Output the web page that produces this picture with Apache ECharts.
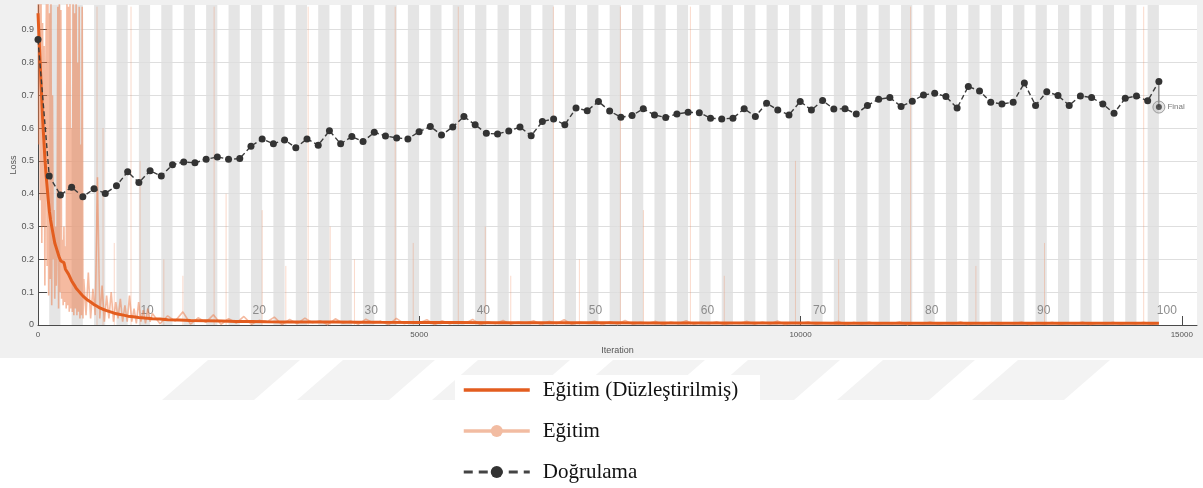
<!DOCTYPE html>
<html>
<head>
<meta charset="utf-8">
<script src="https://cdn.jsdelivr.net/npm/echarts@6/dist/echarts.min.js"></script>
<style>
  html, body { margin: 0; padding: 0; background: #fff; }
  #chart { width: 1203px; height: 488px; }
</style>
</head>
<body>
<div id="chart"></div>
<script>
// ---- training run data ----
const itersPerEpoch = 147;
const epochCount = 100;

const xTicks = [0, 5000, 10000, 15000];
const yTicks = [0, 0.1, 0.2, 0.3, 0.4, 0.5, 0.6, 0.7, 0.8, 0.9];
const epochLabels = [10, 20, 30, 40, 50, 60, 70, 80, 90, 100];

// validation loss, one value per epoch end (epoch 0 .. 100)
const valLoss = [
  0.870, 0.454, 0.396, 0.420, 0.391, 0.415, 0.401, 0.424, 0.467, 0.434,
  0.470, 0.454, 0.488, 0.497, 0.494, 0.505, 0.512, 0.505, 0.507, 0.545,
  0.567, 0.552, 0.564, 0.540, 0.567, 0.548, 0.592, 0.552, 0.574, 0.559,
  0.587, 0.576, 0.570, 0.567, 0.589, 0.605, 0.579, 0.603, 0.635, 0.610,
  0.584, 0.582, 0.591, 0.603, 0.577, 0.620, 0.628, 0.610, 0.661, 0.653,
  0.681, 0.652, 0.633, 0.638, 0.659, 0.640, 0.632, 0.643, 0.648, 0.647,
  0.630, 0.628, 0.630, 0.659, 0.635, 0.676, 0.655, 0.640, 0.681, 0.655,
  0.684, 0.658, 0.659, 0.643, 0.669, 0.688, 0.693, 0.666, 0.682, 0.701,
  0.706, 0.696, 0.661, 0.727, 0.713, 0.679, 0.673, 0.679, 0.737, 0.669,
  0.711, 0.699, 0.669, 0.698, 0.693, 0.673, 0.645, 0.691, 0.698, 0.683,
  0.742
];
const finalLoss = 0.664;

// smoothed training loss
const smoothIter = [0, 15, 30, 45, 60, 75, 90, 105, 120, 135, 150, 165, 180, 200, 220, 240, 260, 280, 300, 320,
  340, 360, 380, 400, 420, 440, 460, 480, 500, 530, 560, 590, 620, 650, 690, 730, 770, 810, 850, 900,
  950, 1000, 1060, 1120, 1180, 1250, 1320, 1400, 1500, 1600, 1700, 1850, 2000, 2200, 2400, 2600, 2800, 3000, 3300, 3600,
  3900, 4200, 4500, 5000, 5500, 6000, 6500, 7000, 7500, 8000, 8500, 9000, 9500, 10000, 10500, 11000, 11500, 12000, 12500, 13000,
  13500, 14000, 14700];
const smoothLoss = [0.95, 0.87, 0.79, 0.71, 0.63, 0.57, 0.51, 0.46, 0.42, 0.38, 0.345, 0.32, 0.30, 0.275, 0.25, 0.235, 0.22, 0.205, 0.195, 0.20,
  0.19, 0.17, 0.165, 0.155, 0.145, 0.135, 0.13, 0.12, 0.112, 0.104, 0.096, 0.088, 0.082, 0.076, 0.07, 0.063, 0.058, 0.052, 0.048, 0.044,
  0.04, 0.036, 0.033, 0.03, 0.027, 0.025, 0.023, 0.021, 0.019, 0.018, 0.016, 0.015, 0.014, 0.013, 0.012, 0.011, 0.0105, 0.010, 0.0095, 0.009,
  0.0088, 0.0085, 0.008, 0.0078, 0.0075, 0.0072, 0.007, 0.0068, 0.0066, 0.0064, 0.0062, 0.006, 0.0059, 0.0058, 0.0057, 0.0056, 0.0055, 0.0054, 0.0053, 0.0052,
  0.0051, 0.005, 0.005];

// raw training loss: iterations 0-590 every 10
const rawA = [1.05, 0.55, 1.02, 0.38, 0.98, 0.25, 0.92, 0.30, 0.85, 0.12,
  0.70, 0.98, 0.18, 1.00, 0.09, 0.95, 0.14, 0.99, 0.06, 0.70,
  0.20, 0.35, 0.08, 0.30, 0.12, 0.28, 0.97, 0.05, 1.00, 0.10,
  0.96, 0.08, 0.26, 0.06, 0.30, 0.07, 0.24, 0.05, 0.99, 0.06,
  0.97, 0.04, 1.00, 0.05, 0.60, 0.04, 0.98, 0.03, 0.95, 0.05,
  0.99, 0.03, 0.80, 0.04, 0.97, 0.02, 0.55, 0.03, 0.97, 0.02];
// iterations 600-1470 every 30
const rawB = [0.14, 0.03, 0.16, 0.02, 0.11, 0.03, 0.45, 0.02, 0.12, 0.01,
  0.09, 0.02, 0.10, 0.01, 0.07, 0.02, 0.08, 0.01, 0.06, 0.01,
  0.09, 0.01, 0.05, 0.005, 0.07, 0.01, 0.045, 0.005, 0.05, 0.01];
// iterations 1500-14700 every 100
const rawC = [0.035, 0.004, 0.028, 0.012, 0.040, 0.003, 0.022, 0.008, 0.031, 0.002,
  0.019, 0.006, 0.026, 0.002, 0.014, 0.009, 0.024, 0.001, 0.017, 0.004,
  0.021, 0.007, 0.013, 0.001, 0.019, 0.005, 0.012, 0.002, 0.018, 0.006,
  0.011, 0.001, 0.020, 0.004, 0.010, 0.006, 0.016, 0.001, 0.013, 0.003,
  0.009, 0.005, 0.017, 0.001, 0.010, 0.004, 0.014, 0.002, 0.009, 0.006,
  0.013, 0.001, 0.011, 0.004, 0.016, 0.002, 0.008, 0.005, 0.012, 0.001,
  0.010, 0.003, 0.014, 0.002, 0.008, 0.005, 0.011, 0.001, 0.009, 0.004,
  0.013, 0.002, 0.008, 0.004, 0.010, 0.001, 0.007, 0.005, 0.011, 0.002,
  0.009, 0.003, 0.012, 0.001, 0.007, 0.004, 0.010, 0.002, 0.007, 0.005,
  0.011, 0.001, 0.008, 0.003, 0.009, 0.002, 0.006, 0.004, 0.010, 0.001,
  0.007, 0.003, 0.009, 0.002, 0.006, 0.004, 0.010, 0.001, 0.007, 0.003,
  0.008, 0.002, 0.006, 0.004, 0.009, 0.001, 0.007, 0.003, 0.008, 0.002,
  0.006, 0.004, 0.009, 0.001, 0.006, 0.003, 0.008, 0.002, 0.007, 0.004,
  0.008, 0.002, 0.006];

// isolated raw-loss spikes
const spikeIter = [774, 853, 1000, 1220, 1339, 1650, 1900, 2310, 2467, 2940, 3250, 3543, 3832, 4150, 4685, 4921,
  5512, 5866, 6200, 6759, 7100, 7638, 7940, 8556, 9000, 9934, 10500, 11444, 12300, 13200, 14501];
const spikePeak = [0.97, 0.60, 0.25, 0.97, 0.50, 0.20, 0.15, 0.97, 0.40, 0.35, 0.18, 0.97, 0.30, 0.20, 0.97, 0.25,
  0.97, 0.30, 0.15, 0.97, 0.20, 0.97, 0.35, 0.97, 0.15, 0.50, 0.20, 0.97, 0.18, 0.25, 0.97];

// ---- assemble series data ----
const X_MAX = 15200, Y_MAX = 0.975;
const rawPts = []
  .concat(rawA.map((v, i) => [i * 10, v]))
  .concat(rawB.map((v, i) => [600 + i * 30, v]))
  .concat(rawC.map((v, i) => [1500 + i * 100, v]));
const smoothPts = smoothIter.map((it, i) => [it, smoothLoss[i]]);
const valPts = valLoss.map((v, k) => [k * itersPerEpoch, v]);
const lastIter = epochCount * itersPerEpoch;
const spikePts = spikeIter.map((it, i) => [it, spikePeak[i]]);
const shadedEpochs = [];
for (let k = 2; k <= epochCount; k += 2) shadedEpochs.push([k]);

const ORANGE = '#e35d1f';
const RAW = 'rgba(236,118,66,0.5)';
const SANS = 'Liberation Sans, Arial, sans-serif';
const fmt = v => String(v);

// decorative slanted stripes under the plot panel
const stripes = [];
for (let i = 0; i < 7; i++) {
  const x0 = 162 + i * 135;
  stripes.push({
    type: 'polygon', z: -20, silent: true,
    shape: { points: [[x0 + 46, 360], [x0 + 138, 360], [x0 + 92, 400], [x0, 400]] },
    style: { fill: '#f3f3f3' }
  });
}

const chart = echarts.init(document.getElementById('chart'), null, { renderer: 'canvas' });
chart.setOption({
  animation: false,
  textStyle: { fontFamily: SANS },
  graphic: [
    { type: 'rect', z: -30, silent: true, shape: { x: 0, y: 0, width: 1203, height: 358 }, style: { fill: '#f0f0f0' } },
    { type: 'rect', z: -25, silent: true, shape: { x: 38, y: 5, width: 1159, height: 320 }, style: { fill: '#ffffff' } }
  ].concat(stripes).concat([
    { type: 'rect', z: -10, silent: true, shape: { x: 455, y: 375, width: 305, height: 113 }, style: { fill: '#ffffff' } }
  ]),
  grid: { left: 38, top: 5, right: 6, bottom: 163, show: false, outerBoundsMode: 'none', containLabel: false },
  xAxis: {
    type: 'value', min: 0, max: X_MAX, interval: 5000,
    name: 'Iteration', nameLocation: 'middle', nameGap: 21, nameMoveOverlap: false,
    nameTextStyle: { fontSize: 9, color: '#555' },
    axisLine: { show: true, lineStyle: { color: '#4a4a4a', width: 1 } },
    axisTick: { show: true, inside: true, length: 9, customValues: xTicks, lineStyle: { color: '#4a4a4a' } },
    axisLabel: { fontSize: 8, color: '#555', margin: 6, customValues: xTicks, formatter: fmt },
    splitLine: { show: false }
  },
  yAxis: {
    type: 'value', min: 0, max: Y_MAX, interval: 0.1,
    name: 'Loss', nameLocation: 'middle', nameGap: 20, nameRotate: 90, nameMoveOverlap: false,
    nameTextStyle: { fontSize: 9, color: '#555' },
    axisLine: { show: true, lineStyle: { color: '#4a4a4a', width: 1 } },
    axisTick: { show: true, inside: true, length: 9, customValues: yTicks, lineStyle: { color: '#4a4a4a' } },
    axisLabel: { fontSize: 9, color: '#555', margin: 4, customValues: yTicks, formatter: fmt },
    splitLine: { show: true, lineStyle: { color: '#dedede', width: 1 } }
  },
  legend: {
    orient: 'vertical', left: 462, top: 378, padding: 0,
    itemWidth: 66, itemHeight: 15, itemGap: 17,
    textStyle: { fontFamily: 'Liberation Serif, Times New Roman, serif', fontSize: 21, color: '#111', lineHeight: 24, padding: [0, 0, 0, 8] },
    data: [
      { name: 'Eğitim (Düzleştirilmiş)', itemStyle: { color: 'rgba(0,0,0,0)', borderWidth: 0 }, lineStyle: { color: ORANGE, width: 3.5 } },
      { name: 'Eğitim', itemStyle: { color: '#f2bca2' }, lineStyle: { color: '#f2bca2', width: 3.5 } },
      { name: 'Doğrulama', itemStyle: { color: '#333' }, lineStyle: { color: '#444', width: 3, type: [9, 6] } }
    ],
    selectedMode: false
  },
  series: [
    {
      // alternating epoch shading
      type: 'custom', name: 'epochs', z: -5, silent: true,
      data: shadedEpochs,
      renderItem: (params, api) => {
        const k = api.value(0);
        const a = api.coord([(k - 1) * itersPerEpoch, Y_MAX]);
        const b = api.coord([k * itersPerEpoch, 0]);
        return { type: 'rect', shape: { x: a[0], y: a[1], width: b[0] - a[0], height: b[1] - a[1] }, style: { fill: '#e5e5e5' } };
      }
    },
    {
      // epoch numbers along the bottom
      type: 'custom', name: 'epochNumbers', z: 1, silent: true,
      data: epochLabels.map(e => [e]),
      renderItem: (params, api) => {
        const e = api.value(0);
        const p = api.coord([e * itersPerEpoch, 0.045]);
        return {
          type: 'text', x: p[0] + (e === epochCount ? 8 : -3), y: p[1],
          style: { text: String(e), fill: '#8c8c8c', font: '12px ' + SANS, align: 'center', verticalAlign: 'middle' }
        };
      }
    },
    {
      type: 'custom', name: 'spikes', z: 2, silent: true,
      data: spikePts,
      renderItem: (params, api) => {
        const p0 = api.coord([api.value(0), 0]);
        const p1 = api.coord([api.value(0), Math.min(api.value(1), Y_MAX)]);
        return { type: 'line', shape: { x1: p0[0], y1: p0[1], x2: p1[0], y2: p1[1] }, style: { stroke: 'rgba(238,128,80,0.3)', lineWidth: 1 } };
      }
    },
    {
      name: 'Eğitim', type: 'line', z: 3, data: rawPts,
      symbol: 'circle', symbolSize: 12, showSymbol: false, sampling: 'none',
      itemStyle: { color: '#f2bca2' },
      lineStyle: { color: RAW, width: 1.6 },
      clip: true, silent: true
    },
    {
      name: 'Eğitim (Düzleştirilmiş)', type: 'line', z: 4, data: smoothPts,
      symbol: 'none', itemStyle: { color: ORANGE },
      lineStyle: { color: ORANGE, width: 3 },
      clip: true, silent: true
    },
    {
      name: 'Doğrulama', type: 'line', z: 5, data: valPts,
      symbol: 'circle', symbolSize: 7,
      itemStyle: { color: '#333' },
      lineStyle: { color: '#3c3c3c', width: 1.4, type: [5, 3] },
      clip: true, silent: true
    },
    {
      name: 'finalLink', type: 'line', z: 5,
      data: [[lastIter, valLoss[epochCount]], [lastIter, finalLoss]],
      symbol: 'none', lineStyle: { color: '#555', width: 1 }, silent: true
    },
    {
      name: 'finalRing', type: 'scatter', z: 6,
      data: [[lastIter, finalLoss]], symbolSize: 12,
      itemStyle: { color: 'rgba(160,160,160,0.35)', borderColor: '#8a8a8a', borderWidth: 1 },
      label: { show: true, position: 'right', distance: 2, formatter: 'Final', fontSize: 8, color: '#555' },
      silent: true
    },
    {
      name: 'finalDot', type: 'scatter', z: 7,
      data: [[lastIter, finalLoss]], symbolSize: 6,
      itemStyle: { color: '#333' }, silent: true
    }
  ]
});
</script>
</body>
</html>
